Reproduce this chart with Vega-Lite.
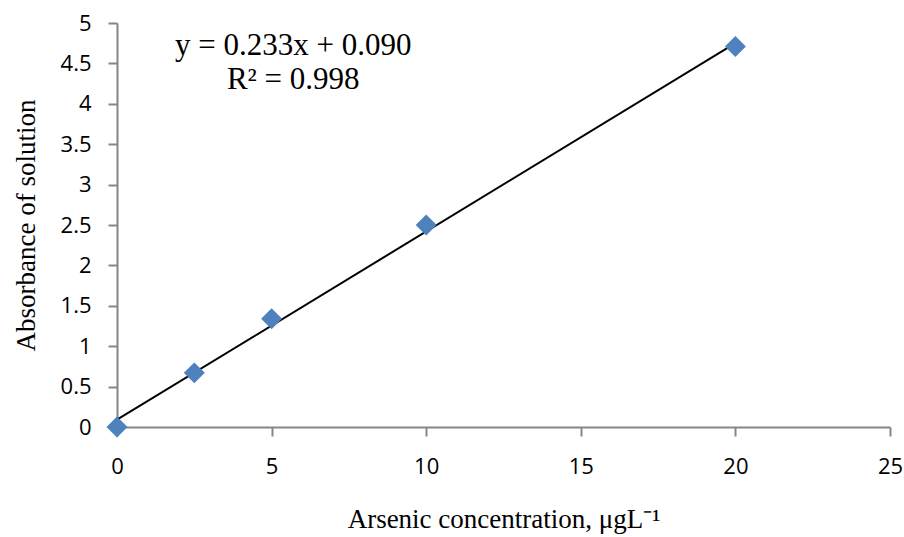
{
  "$schema": "https://vega.github.io/schema/vega-lite/v6.json",
  "autosize": "none",
  "width": 773,
  "height": 404,
  "padding": {"left": 117, "top": 23, "right": 14, "bottom": 110},
  "background": "white",
  "config": {"view": {"stroke": null}},
  "layer": [
    {
      "data": {"values": [{"x": 0, "y": 0.09}, {"x": 20, "y": 4.75}]},
      "mark": {"type": "line", "color": "black", "strokeWidth": 2},
      "encoding": {
        "x": {
          "field": "x", "type": "quantitative",
          "scale": {"domain": [0, 25], "nice": false},
          "axis": {
            "values": [0, 5, 10, 15, 20, 25],
            "format": "~g",
            "labelFlush": false,
            "title": "Arsenic concentration, μgL⁻¹",
            "titleFont": "Liberation Serif", "titleFontSize": 27, "titleFontWeight": "normal", "titleColor": "black",
            "titlePadding": 29,
            "labelFont": "Open Sans", "labelFontSize": 22, "labelColor": "black", "labelPadding": 20,
            "domainColor": "#868686", "domainWidth": 2, "tickColor": "#868686", "tickWidth": 2, "tickSize": 9,
            "grid": false
          }
        },
        "y": {
          "field": "y", "type": "quantitative",
          "scale": {"domain": [0, 5], "nice": false},
          "axis": {
            "values": [0, 0.5, 1, 1.5, 2, 2.5, 3, 3.5, 4, 4.5, 5],
            "format": "~g",
            "labelFlush": false,
            "title": "Absorbance of solution",
            "titleFont": "Liberation Serif", "titleFontSize": 27, "titleFontWeight": "normal", "titleColor": "black",
            "titlePadding": 20,
            "labelFont": "Open Sans", "labelFontSize": 22, "labelColor": "black", "labelPadding": 17,
            "domainColor": "#868686", "domainWidth": 2, "tickColor": "#868686", "tickWidth": 2, "tickSize": 9,
            "grid": false
          }
        }
      }
    },
    {
      "data": {"values": [
        {"x": 0, "y": 0},
        {"x": 2.5, "y": 0.67},
        {"x": 5, "y": 1.34},
        {"x": 10, "y": 2.5},
        {"x": 20, "y": 4.71}
      ]},
      "mark": {"type": "point", "shape": "diamond", "filled": true, "color": "#4F81BD", "opacity": 1, "size": 440},
      "encoding": {
        "x": {"field": "x", "type": "quantitative"},
        "y": {"field": "y", "type": "quantitative"}
      }
    },
    {
      "data": {"values": [
        {"x": 5.7, "y": 4.72, "t": "y = 0.233x + 0.090"},
        {"x": 5.7, "y": 4.29, "t": "R² = 0.998"}
      ]},
      "mark": {"type": "text", "font": "Liberation Serif", "fontSize": 31, "color": "black", "align": "center", "baseline": "middle"},
      "encoding": {
        "x": {"field": "x", "type": "quantitative"},
        "y": {"field": "y", "type": "quantitative"},
        "text": {"field": "t"}
      }
    }
  ]
}
